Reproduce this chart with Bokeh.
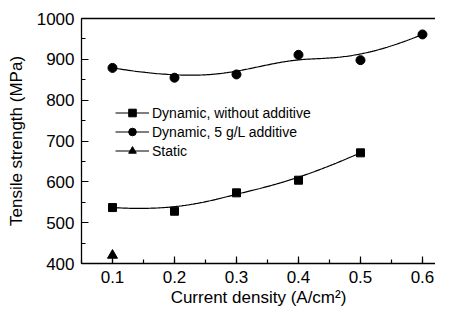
import numpy as np
from bokeh.plotting import figure
from bokeh.models import Range1d, SingleIntervalTicker, LinearAxis, FixedTicker, Legend, LegendItem
from bokeh.embed import file_html
from bokeh.resources import INLINE

# Data
x_dyn_no = [0.1, 0.2, 0.3, 0.4, 0.5]
y_dyn_no = [537, 528, 573, 604, 671]
x_dyn_add = [0.1, 0.2, 0.3, 0.4, 0.5, 0.6]
y_dyn_add = [879, 855, 863, 911, 898, 961]
x_static = [0.1]
y_static = [420]
labels = ["Dynamic, without additive", "Dynamic, 5 g/L additive", "Static"]


def bspline(xs, ys, npts=200):
    """Clamped cubic B-spline using the data points as control points."""
    P = np.column_stack([xs, ys]).astype(float)
    n = len(P)
    k = 3
    inner = list(range(1, n - k))
    m = n - k
    knots = np.array([0] * (k + 1) + inner + [m] * (k + 1), dtype=float)
    ts = np.linspace(0, m, npts)
    out = []
    for t in ts:
        N = np.zeros(len(knots) - 1)
        for i in range(len(knots) - 1):
            if knots[i] <= t < knots[i + 1] or (t == m and knots[i] < knots[i + 1] == m):
                N[i] = 1.0
        for d in range(1, k + 1):
            Nn = np.zeros(len(knots) - 1 - d)
            for i in range(len(Nn)):
                a = 0.0
                if knots[i + d] != knots[i]:
                    a = (t - knots[i]) / (knots[i + d] - knots[i]) * N[i]
                b = 0.0
                if knots[i + d + 1] != knots[i + 1]:
                    b = (knots[i + d + 1] - t) / (knots[i + d + 1] - knots[i + 1]) * N[i + 1]
                Nn[i] = a + b
            N = Nn
        out.append(N[:n] @ P)
    out = np.array(out)
    return out[:, 0], out[:, 1]


FONT = "Liberation Sans"

p = figure(width=435, height=309, output_backend="svg", toolbar_location=None,
           x_range=Range1d(0.05, 0.621), y_range=Range1d(400, 1000),
           min_border_left=81, min_border_top=18, min_border_right=0, min_border_bottom=45)
p.outline_line_color = None
p.grid.visible = False
p.background_fill_color = "white"
p.border_fill_color = "white"

for ax in (p.xaxis[0], p.yaxis[0]):
    ax.major_tick_in = 7
    ax.major_tick_out = 0
    ax.minor_tick_in = 4
    ax.minor_tick_out = 0
    ax.axis_line_color = "black"
    ax.axis_line_width = 1.3
    ax.major_tick_line_width = 1.2
    ax.minor_tick_line_width = 1.2
    ax.major_tick_line_color = "black"
    ax.minor_tick_line_color = "black"
    ax.major_label_text_font = FONT
    ax.major_label_text_font_size = "17px"
    ax.major_label_text_color = "black"
    ax.axis_label_text_font = FONT
    ax.axis_label_text_font_size = "17px"
    ax.axis_label_text_font_style = "normal"
    ax.axis_label_text_color = "black"

p.xaxis[0].ticker = SingleIntervalTicker(interval=0.1, num_minor_ticks=2)
p.yaxis[0].ticker = SingleIntervalTicker(interval=100, num_minor_ticks=2)
p.xaxis[0].axis_label = "Current density (A/cm²)"
p.yaxis[0].axis_label = "Tensile strength (MPa)"
p.xaxis[0].major_label_standoff = 7
p.yaxis[0].major_label_standoff = 7
p.xaxis[0].axis_label_standoff = 2
p.yaxis[0].axis_label_standoff = 8

top = LinearAxis(ticker=FixedTicker(ticks=[]), major_label_text_font_size="0px",
                 axis_line_width=1.3, axis_line_color="black",
                 major_tick_in=0, major_tick_out=0, minor_tick_in=0, minor_tick_out=0)
p.add_layout(top, "above")

cx, cy = bspline(x_dyn_no, y_dyn_no)
l1 = p.line(cx, cy, line_color="black", line_width=1.2)
cx2, cy2 = bspline(x_dyn_add, y_dyn_add)
l2 = p.line(cx2, cy2, line_color="black", line_width=1.2)

s1 = p.scatter(x_dyn_no, y_dyn_no, marker="square", size=8, color="black")
s2 = p.scatter(x_dyn_add, y_dyn_add, marker="circle", size=9, color="black")
s3 = p.scatter(x_static, y_static, marker="triangle", size=10, color="black")

lg1 = p.line([0.3, 0.3], [300, 300], line_color="black", line_width=1.2)
lg2 = p.line([0.3, 0.3], [300, 300], line_color="black", line_width=1.2)
lg3 = p.line([0.3, 0.3], [300, 300], line_color="black", line_width=1.2)

legend = Legend(items=[
    LegendItem(label=labels[0], renderers=[lg1, s1]),
    LegendItem(label=labels[1], renderers=[lg2, s2]),
    LegendItem(label=labels[2], renderers=[lg3, s3]),
], location=(34, 103))
legend.glyph_width = 34
legend.glyph_height = 19
legend.label_height = 19
legend.spacing = 0
legend.padding = 0
legend.margin = 0
legend.label_standoff = 3
legend.border_line_color = None
legend.background_fill_alpha = 0
legend.label_text_font = FONT
legend.label_text_font_size = "14px"
legend.label_text_color = "black"
p.add_layout(legend, "center")

open("out.html", "w").write(file_html(p, INLINE))
